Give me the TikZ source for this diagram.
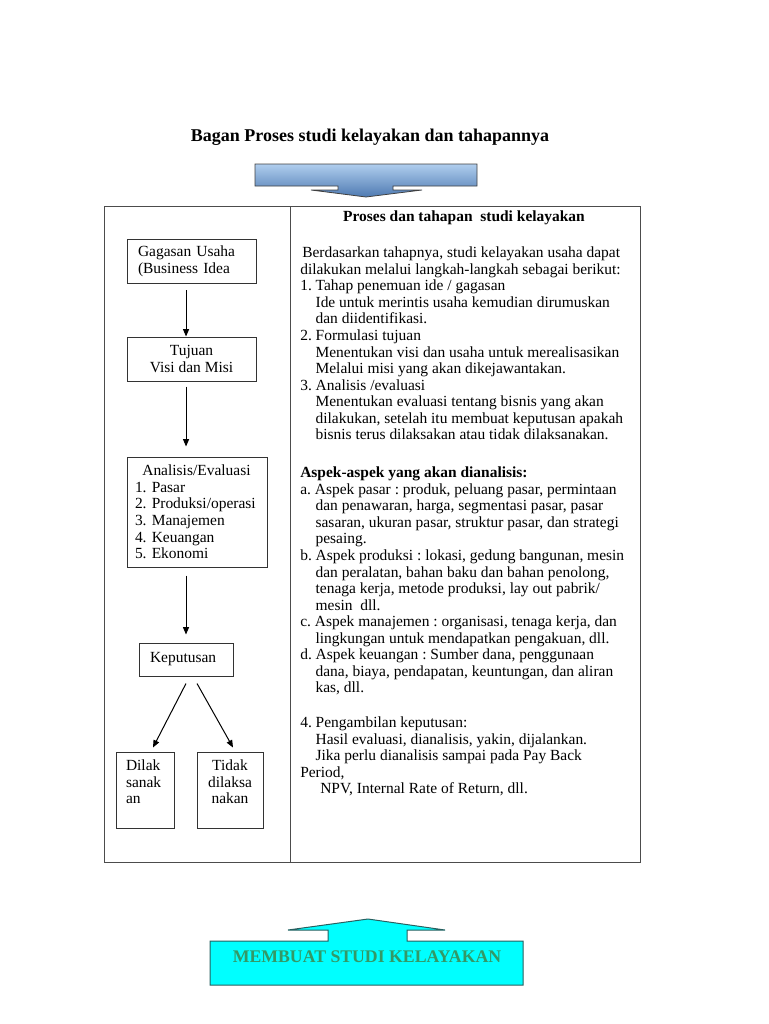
\documentclass[tikz,border=0pt]{standalone}
\usepackage{fontspec}
\setmainfont{Liberation Serif}
\usetikzlibrary{arrows.meta,positioning}
\frenchspacing
\hyphenpenalty=10000
\newcommand{\bodysize}{\fontsize{11.6pt}{12.4pt}\selectfont}
\newcommand{\ind}{\hspace*{11.5pt}}
\definecolor{arrowtop}{RGB}{176,206,238}
\definecolor{arrowbot}{RGB}{78,122,178}
\definecolor{bannerfill}{RGB}{0,255,255}
\definecolor{bannerline}{RGB}{40,95,95}
\definecolor{bannertext}{RGB}{51,153,102}

\begin{document}
\begin{tikzpicture}[x=0.75pt, y=-0.75pt,
    panel/.style={draw=black!70, line width=0.75pt, minimum width=#1, minimum height=492pt, inner sep=0pt},
    flowbox/.style={draw=black!80, line width=0.75pt, font=\bodysize, inner sep=0pt},
    body/.style={font=\bodysize, align=left, inner sep=0pt, anchor=north west},
    arrow/.style={-{Triangle[length=5.5pt,width=4.5pt]}, line width=0.75pt}
]
    \useasboundingbox (0,0) rectangle (768,1024);

    % Title
    \node[font=\fontsize{13.5pt}{15pt}\selectfont\bfseries, anchor=base] (title) at (370,141) {Bagan Proses studi kelayakan dan tahapannya};

    % Top arrow
    \draw[draw=black!75, line width=0.6pt, top color=arrowtop, bottom color=arrowbot]
        (255,164) -- (477,164) -- (477,186) -- (393,186) -- (393,190) -- (422,190)
        -- (366,197) -- (311,190) -- (338,190) -- (338,186) -- (255,186) -- cycle;

    % Panels
    \node[panel=139.5pt] (leftpanel) at (197,534) {};
    \node[panel=262.5pt] (rightpanel) at (465,534) {};

    % Flow boxes
    \node[flowbox, minimum width=96.75pt, minimum height=33pt, text width=80.25pt, align=left] (gagasan) at (191.5,261.5) {Gagasan Usaha\\(Business Idea};
    \node[flowbox, minimum width=96.75pt, minimum height=33pt, align=center] (tujuan) at (191.5,359) {Tujuan\\Visi dan Misi};
    \node[flowbox, minimum width=105pt, minimum height=82.5pt, text width=93pt, align=left] (analisis) at (197,512)
        {\hspace*{5.5pt}Analisis/Evaluasi\\1. Pasar\\2. Produksi/operasi\\3. Manajemen\\4. Keuangan\\5. Ekonomi};
    \node[flowbox, minimum width=70.5pt, minimum height=24.75pt, text width=54pt, align=left] (keputusan) at (186,659.5) {Keputusan};
    \node[flowbox, minimum width=43.5pt, minimum height=57pt, text width=28.5pt, align=left] (dilak) at (145,790) {Dilak\\sanak\\an\\\mbox{}};
    \node[flowbox, minimum width=49.5pt, minimum height=57pt, align=center] (tidak) at (230,790) {Tidak\\dilaksa\\nakan\\\mbox{}};

    % Flow arrows
    \draw[arrow, shorten <=4.5pt] ([xshift=-4.1pt]gagasan.south) -- ([xshift=-4.1pt]tujuan.north);
    \draw[arrow, shorten <=3.75pt, shorten >=7.5pt] ([xshift=-4.1pt]tujuan.south) -- ([xshift=-4.1pt]tujuan.south |- analisis.north);
    \draw[arrow, shorten <=6pt, shorten >=6pt] (keputusan.north |- analisis.south) -- (keputusan.north);
    \draw[arrow] ([yshift=-5.25pt]keputusan.south) -- ([shift={(6pt,3pt)}]dilak.north);
    \draw[arrow] ([shift={(8.25pt,-5.25pt)}]keputusan.south) -- ([shift={(2.25pt,3pt)}]tidak.north);

    % Right panel text
    \node[font=\bodysize\bfseries, anchor=base] (prosestitle) at (464,221) {Proses dan tahapan\ \ studi kelayakan};
    \node[body] (tahapan) at (300,246) {\strut\hspace*{1.5pt}Berdasarkan tahapnya, studi kelayakan usaha dapat\\
        dilakukan melalui langkah-langkah sebagai berikut:\\
        1. Tahap penemuan ide / gagasan\\
        \ind Ide untuk merintis usaha kemudian dirumuskan\\
        \ind dan diidentifikasi.\\
        2. Formulasi tujuan\\
        \ind Menentukan visi dan usaha untuk merealisasikan\\
        \ind Melalui misi yang akan dikejawantakan.\\
        3. Analisis /evaluasi\\
        \ind Menentukan evaluasi tentang bisnis yang akan\\
        \ind dilakukan, setelah itu membuat keputusan apakah\\
        \ind bisnis terus dilaksakan atau tidak dilaksanakan.};
    \node[body] (aspek) at (300,466) {\strut\textbf{Aspek-aspek yang akan dianalisis:}\\
        a. Aspek pasar : produk, peluang pasar, permintaan\\
        \ind dan penawaran, harga, segmentasi pasar, pasar\\
        \ind sasaran, ukuran pasar, struktur pasar, dan strategi\\
        \ind pesaing.\\
        b. Aspek produksi : lokasi, gedung bangunan, mesin\\
        \ind dan peralatan, bahan baku dan bahan penolong,\\
        \ind tenaga kerja, metode produksi, lay out pabrik/\\
        \ind mesin\ \ dll.\\
        c. Aspek manajemen : organisasi, tenaga kerja, dan\\
        \ind lingkungan untuk mendapatkan pengakuan, dll.\\
        d. Aspek keuangan : Sumber dana, penggunaan\\
        \ind dana, biaya, pendapatan, keuntungan, dan aliran\\
        \ind kas, dll.};
    \node[body] (pengambilan) at (300,716) {\strut 4. Pengambilan keputusan:\\
        \ind Hasil evaluasi, dianalisis, yakin, dijalankan.\\
        \ind Jika perlu dianalisis sampai pada Pay Back\\
        Period,\\
        \hspace*{15pt}NPV, Internal Rate of Return, dll.};

    % Bottom banner
    \draw[draw=bannerline, line width=0.75pt, fill=bannerfill]
        (210,941) -- (328,941) -- (328,930) -- (288,930) -- (368,919) -- (445,930)
        -- (407,930) -- (407,941) -- (523,941) -- (523,985) -- (210,985) -- cycle;
    \node[font=\fontsize{13.3pt}{15pt}\selectfont\bfseries, text=bannertext, anchor=base] (banner) at (367,962) {MEMBUAT STUDI KELAYAKAN};
\end{tikzpicture}
\end{document}
